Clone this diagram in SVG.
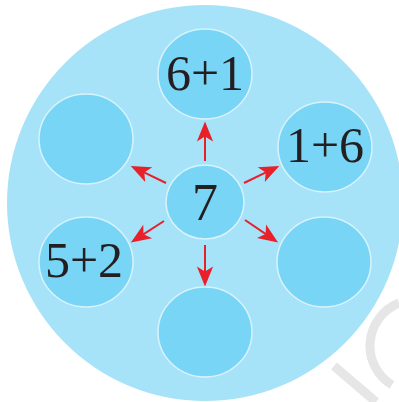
<svg xmlns="http://www.w3.org/2000/svg" width="399" height="402" viewBox="0 0 399 402">
<style>
.node{fill:#79D5F5;stroke:#D8F3FC;stroke-width:1.5}
.lbl{font-family:"Liberation Serif",serif;font-size:50px;fill:#231F20;text-anchor:middle}
.arr{stroke:#E8202A;stroke-width:2;fill:none;marker-end:url(#ah)}
.wm{stroke:#E6E6E6;stroke-width:9;fill:none}
</style>
<defs>
<marker id="ah" markerUnits="userSpaceOnUse" markerWidth="30" markerHeight="30" refX="0" refY="0" viewBox="-10 -10 24 20" orient="auto" overflow="visible">
<path d="M10,0 L-6,-6.5 L-2,0 L-6,6.5 Z" fill="#E8202A"/>
</marker>
</defs>
<rect width="399" height="402" fill="#FFFFFF"/>
<g id="watermark">
<path class="wm" d="M334,366 L376,402"/>
<path class="wm" d="M399,303 A46,46 0 0 0 392,385"/>
</g>
<g id="plate">
<ellipse cx="205" cy="203" rx="198" ry="198" fill="#A6E3F9"/>
</g>
<g id="n-top"><ellipse class="node" cx="205" cy="74" rx="47" ry="45"/><text class="lbl" x="205" y="90">6+1</text></g>
<g id="n-ul"><ellipse class="node" cx="86" cy="139" rx="47" ry="45"/></g>
<g id="n-ur"><ellipse class="node" cx="325" cy="147" rx="47" ry="45"/><text class="lbl" x="325" y="162">1+6</text></g>
<g id="n-ll"><ellipse class="node" cx="86" cy="262" rx="47" ry="45"/><text class="lbl" x="84" y="277">5+2</text></g>
<g id="n-lr"><ellipse class="node" cx="324" cy="262" rx="47" ry="45"/></g>
<g id="n-bottom"><ellipse class="node" cx="205" cy="332" rx="47" ry="45"/></g>
<g id="n-center"><ellipse class="node" cx="205" cy="202" rx="39" ry="37"/><text class="lbl" x="205" y="220" style="font-size:52px">7</text></g>
<g id="connectors">
<path class="arr" d="M205,161 L205,134"/>
<path class="arr" d="M205,245 L205,274"/>
<path class="arr" d="M166,183 L142,171.4"/>
<path class="arr" d="M244,183 L268,171.4"/>
<path class="arr" d="M164,221 L141.4,235.6"/>
<path class="arr" d="M245,220 L267.7,235.4"/>
</g>
</svg>
